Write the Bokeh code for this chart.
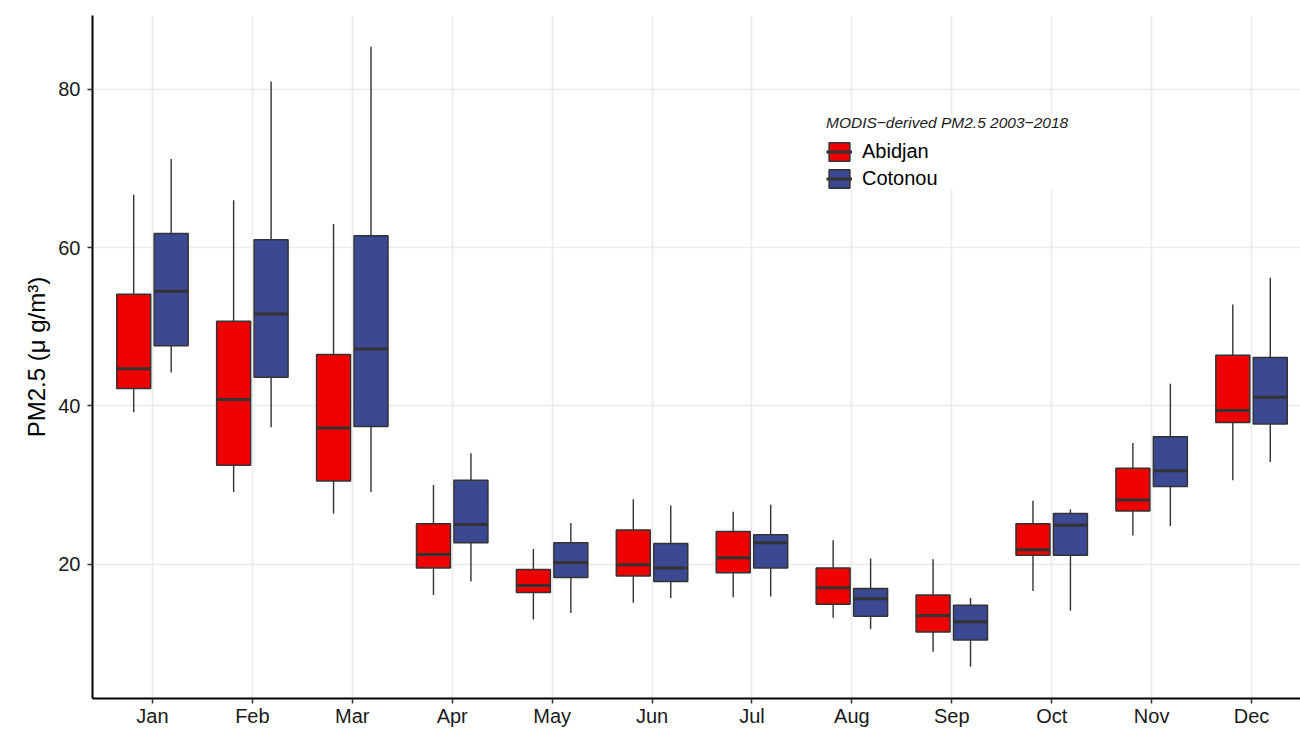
from bokeh.plotting import figure
from bokeh.models import (ColumnDataSource, FixedTicker, Legend, LegendItem, Range1d)
from bokeh.transform import dodge
from bokeh.embed import file_html
from bokeh.resources import INLINE

# Monthly MODIS-derived PM2.5 distributions (µg/m³), 2003-2018
months = ["Jan", "Feb", "Mar", "Apr", "May", "Jun",
          "Jul", "Aug", "Sep", "Oct", "Nov", "Dec"]

abidjan_lower  = [39.2, 29.1, 26.4, 16.1, 13.0, 15.1, 15.8, 13.2,  8.9, 16.6, 23.6, 30.6]
abidjan_q1     = [42.2, 32.5, 30.5, 19.5, 16.4, 18.5, 18.9, 14.9, 11.4, 21.1, 26.7, 37.9]
abidjan_median = [44.7, 40.8, 37.2, 21.2, 17.3, 19.9, 20.8, 17.0, 13.5, 21.8, 28.1, 39.4]
abidjan_q3     = [54.1, 50.7, 46.5, 25.1, 19.3, 24.3, 24.1, 19.5, 16.1, 25.1, 32.1, 46.4]
abidjan_upper  = [66.7, 66.0, 63.0, 30.0, 21.9, 28.2, 26.6, 23.0, 20.6, 28.0, 35.3, 52.8]

cotonou_lower  = [44.2, 37.3, 29.1, 17.8, 13.8, 15.7, 15.9, 11.8,  7.0, 14.1, 24.8, 32.9]
cotonou_q1     = [47.6, 43.6, 37.4, 22.7, 18.3, 17.8, 19.5, 13.4, 10.4, 21.1, 29.8, 37.7]
cotonou_median = [54.5, 51.6, 47.2, 25.0, 20.2, 19.5, 22.7, 15.6, 12.7, 24.9, 31.8, 41.1]
cotonou_q3     = [61.8, 61.0, 61.5, 30.6, 22.7, 22.6, 23.7, 16.9, 14.8, 26.4, 36.1, 46.1]
cotonou_upper  = [71.2, 81.0, 85.4, 34.0, 25.2, 27.4, 27.5, 20.7, 15.7, 26.9, 42.8, 56.2]

cities = ["Abidjan", "Cotonou"]
fills = ["#EE0000", "#3B4992"]
edge = "#333333"
font = "Liberation Sans"

positions = list(range(1, len(months) + 1))

p = figure(width=1300, height=729, output_backend="svg", toolbar_location=None,
           x_range=Range1d(0.4, 12.49), y_range=Range1d(3.0, 89.35),
           min_border_left=92, min_border_right=0, min_border_top=15,
           min_border_bottom=29)
p.outline_line_color = None
p.background_fill_color = "white"
p.border_fill_color = "white"

series = [
    (abidjan_lower, abidjan_q1, abidjan_median, abidjan_q3, abidjan_upper),
    (cotonou_lower, cotonou_q1, cotonou_median, cotonou_q3, cotonou_upper),
]
offsets = [-0.1875, 0.1875]
half_box = 0.17

legend_items = []
for city, fill, off, (lo, q1, med, q3, hi) in zip(cities, fills, offsets, series):
    src = ColumnDataSource(dict(pos=positions, lower=lo, q1=q1, median=med,
                                q3=q3, upper=hi))
    # whiskers
    p.segment(x0=dodge("pos", off), y0="q3", x1=dodge("pos", off), y1="upper",
              source=src, line_color=edge, line_width=1.4)
    p.segment(x0=dodge("pos", off), y0="lower", x1=dodge("pos", off), y1="q1",
              source=src, line_color=edge, line_width=1.4)
    # interquartile box
    box = p.vbar(x=dodge("pos", off), width=2 * half_box, bottom="q1", top="q3",
                 source=src, fill_color=fill, line_color=edge, line_width=1.5)
    # median bar
    med_r = p.segment(x0=dodge("pos", off - half_box), y0="median",
                      x1=dodge("pos", off + half_box), y1="median",
                      source=src, line_color=edge, line_width=3)
    legend_items.append(LegendItem(label=city, renderers=[box, med_r]))

legend = Legend(items=legend_items, location=(734, 508),
                title="MODIS\u2212derived PM2.5 2003\u22122018",
                title_text_font=font, title_text_font_style="italic",
                title_text_font_size="15.5px", title_text_color="#1a1a1a",
                title_standoff=8,
                label_text_font=font, label_text_font_size="20px",
                label_text_color="black", label_standoff=10,
                label_height=23, glyph_height=23, glyph_width=26, spacing=4,
                padding=10, margin=0, border_line_color=None,
                background_fill_color="white", background_fill_alpha=1.0)
p.add_layout(legend)

# grid
p.xgrid.ticker = FixedTicker(ticks=positions)
p.ygrid.ticker = FixedTicker(ticks=[20, 40, 60, 80])
for g in (p.xgrid, p.ygrid):
    g.grid_line_color = "#EBEBEB"
    g.grid_line_width = 1.6

# axes
p.xaxis.ticker = FixedTicker(ticks=positions)
p.xaxis.major_label_overrides = {i: m for i, m in zip(positions, months)}
p.yaxis.ticker = FixedTicker(ticks=[20, 40, 60, 80])
p.yaxis.axis_label = "PM2.5 (\u03bc g/m\u00b3)"
for ax in (p.xaxis, p.yaxis):
    ax.axis_line_color = "black"
    ax.axis_line_width = 2
    ax.major_tick_line_color = "#333333"
    ax.major_tick_line_width = 1.5
    ax.major_tick_out = 5
    ax.major_tick_in = 0
    ax.minor_tick_out = 0
    ax.minor_tick_in = 0
    ax.major_label_text_font = font
    ax.major_label_text_font_size = "20px"
    ax.major_label_text_color = "#1a1a1a"
p.xaxis.major_label_standoff = 1
p.yaxis.major_label_standoff = 7
p.yaxis.axis_label_text_font = font
p.yaxis.axis_label_text_font_size = "24px"
p.yaxis.axis_label_text_font_style = "normal"
p.yaxis.axis_label_text_color = "black"
p.yaxis.axis_label_standoff = 5

open("out.html", "w").write(file_html(p, INLINE))
